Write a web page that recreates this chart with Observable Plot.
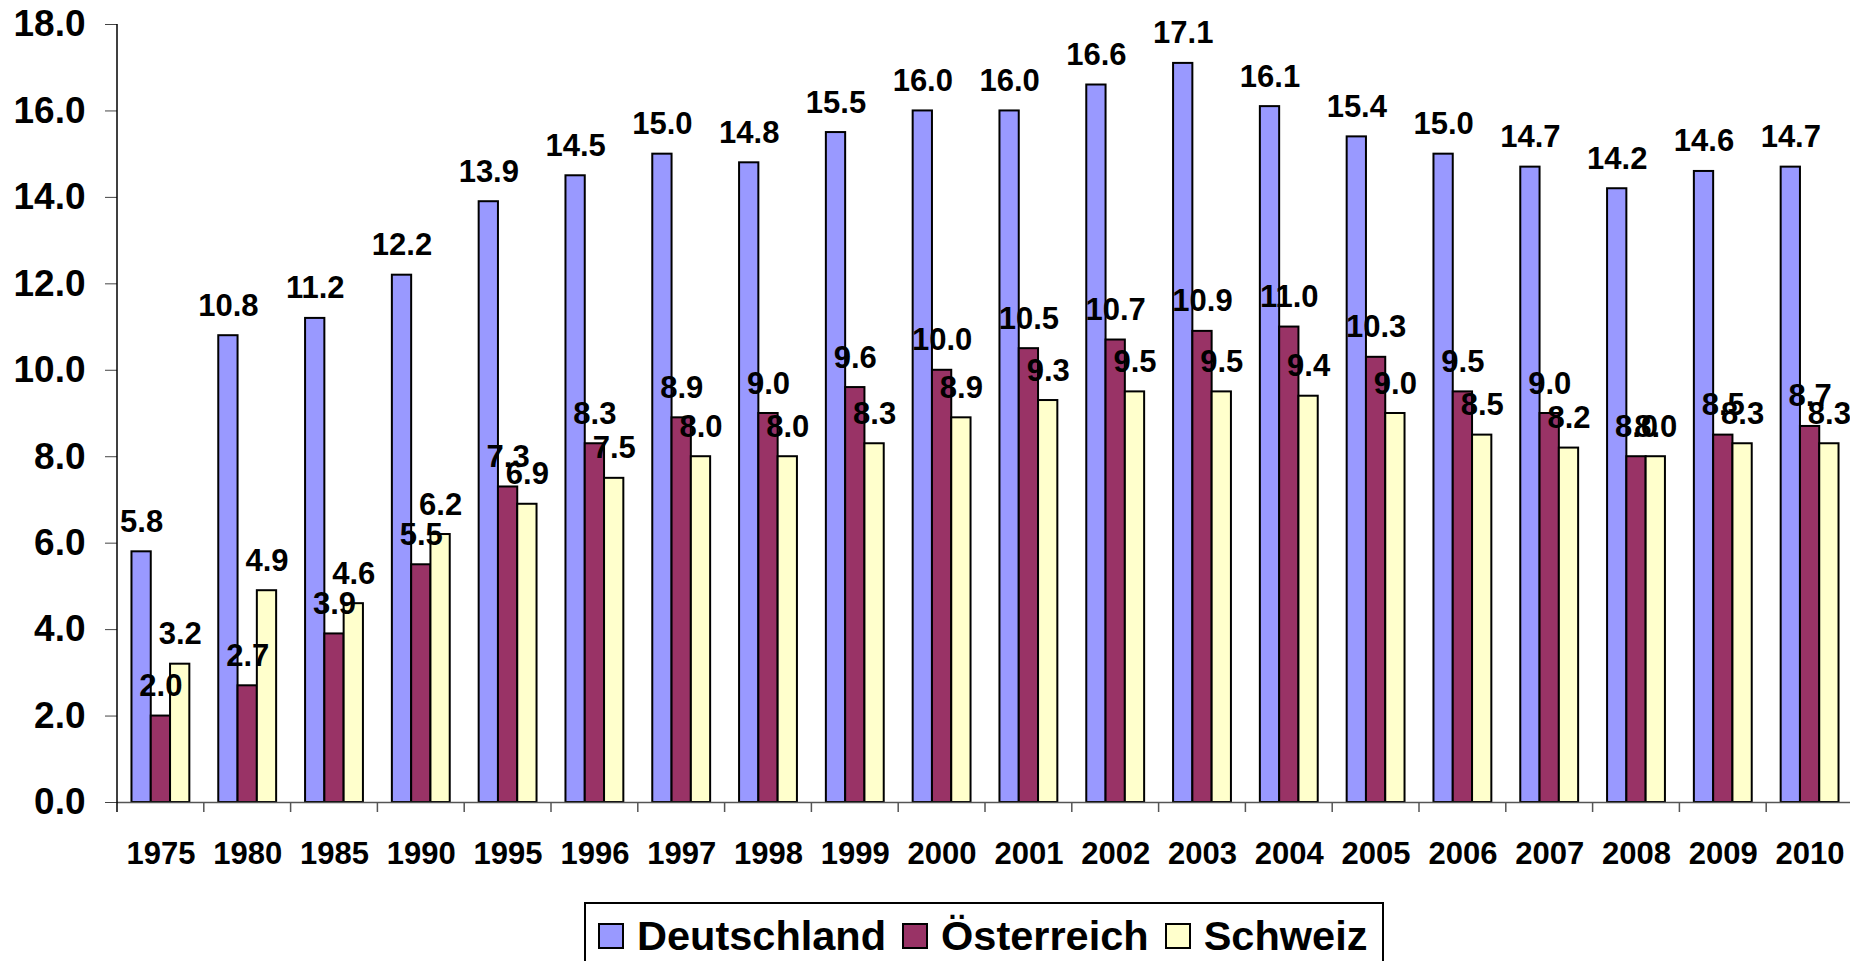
<!DOCTYPE html>
<html><head><meta charset="utf-8">
<script src="https://cdn.jsdelivr.net/npm/d3@7"></script>
<script src="https://cdn.jsdelivr.net/npm/@observablehq/plot@0.6"></script>
<style>
html,body{margin:0;padding:0;background:#fff;overflow:hidden;}
#chart{position:relative;width:1850px;height:961px;overflow:hidden;}
#legend{position:absolute;left:584px;top:902px;height:80px;width:800px;border:2px solid #000;box-sizing:border-box;display:flex;align-items:flex-start;padding:8px 0 0 12px;font:bold 41.5px "Liberation Sans", Arial, sans-serif;line-height:48px;color:#000;}
.item{display:flex;align-items:center;margin-right:16px;white-space:nowrap;}
.sw{width:26px;height:26px;border:2px solid #000;box-sizing:border-box;margin-right:13px;}
</style>
</head><body>
<div id="chart"></div>
<script>
const years = ["1975","1980","1985","1990","1995","1996","1997","1998","1999","2000","2001","2002","2003","2004","2005","2006","2007","2008","2009","2010"];
const series = ["Deutschland","Österreich","Schweiz"];
const deutschland = [5.8,10.8,11.2,12.2,13.9,14.5,15.0,14.8,15.5,16.0,16.0,16.6,17.1,16.1,15.4,15.0,14.7,14.2,14.6,14.7];
const oesterreich = [2.0,2.7,3.9,5.5,7.3,8.3,8.9,9.0,9.6,10.0,10.5,10.7,10.9,11.0,10.3,9.5,9.0,8.0,8.5,8.7];
const schweiz = [3.2,4.9,4.6,6.2,6.9,7.5,8.0,8.0,8.3,8.9,9.3,9.5,9.5,9.4,9.0,8.5,8.2,8.0,8.3,8.3];
const colors = ["#9999FF","#993366","#FFFFCC"];
const yTicks = [0,2,4,6,8,10,12,14,16,18];

const valuesBySeries = [deutschland, oesterreich, schweiz];
const data = years.flatMap((yr, i) => series.map((s, j) => ({year: yr, series: s, value: valuesBySeries[j][i]})));

const font = '"Liberation Sans", Arial, sans-serif';
const chart = Plot.plot({
  width: 1850, height: 902,
  marginTop: 24, marginBottom: 100, marginLeft: 117, marginRight: 0,
  style: {fontFamily: font, fontWeight: "bold", background: "white", color: "black", overflow: "visible"},
  fx: {domain: years, padding: 0, round: false, range: [117, 1853], label: null},
  x: {domain: series, paddingInner: 0, paddingOuter: 0.75, round: false, axis: null},
  y: {domain: [0, 18], label: null},
  color: {domain: series, range: colors},
  marks: [
    Plot.axisY({ticks: yTicks, tickFormat: d => d.toFixed(1), tickSize: 12, tickPadding: 20, fontSize: 37, fontWeight: "bold", stroke: "#444", label: null}),
    Plot.axisFx({anchor: "bottom", tickSize: 0, tickPadding: 39, fontSize: 31, fontWeight: "bold", label: null}),
    Plot.barY(data, {fx: "year", x: "series", y: "value", fill: "series", stroke: "black", strokeWidth: 2}),
    Plot.ruleY([0], {stroke: "#555", strokeWidth: 1.5}),
    Plot.text(data, {fx: "year", x: "series", y: "value", text: d => d.value.toFixed(1), lineAnchor: "bottom", dy: -20, fontSize: 31, fontWeight: "bold", fill: "black"})
  ]
});

// category boundary ticks and y axis line, positioned via Plot's scales
const fxs = chart.scale("fx"), ys = chart.scale("y");
const y0 = ys.apply(0), yTop = ys.apply(18);
const g = d3.select(chart).append("g");
const bounds = years.map(yr => fxs.apply(yr)).concat([fxs.range[1]]);
g.selectAll("line.b").data(bounds.slice(1)).join("line")
  .attr("x1", d => d).attr("x2", d => d).attr("y1", y0).attr("y2", y0 + 10)
  .attr("stroke", "#555").attr("stroke-width", 1.5);
g.append("line").attr("x1", bounds[0]).attr("x2", bounds[0]).attr("y1", yTop).attr("y2", y0 + 10)
  .attr("stroke", "black").attr("stroke-width", 1.5);

const container = document.getElementById("chart");
container.appendChild(chart);

const legend = document.createElement("div");
legend.id = "legend";
series.forEach((s, i) => {
  const item = document.createElement("div");
  item.className = "item";
  const sw = document.createElement("div");
  sw.className = "sw";
  sw.style.background = colors[i];
  const t = document.createElement("span");
  t.textContent = s;
  item.appendChild(sw); item.appendChild(t);
  legend.appendChild(item);
});
container.appendChild(legend);
</script>
</body></html>
